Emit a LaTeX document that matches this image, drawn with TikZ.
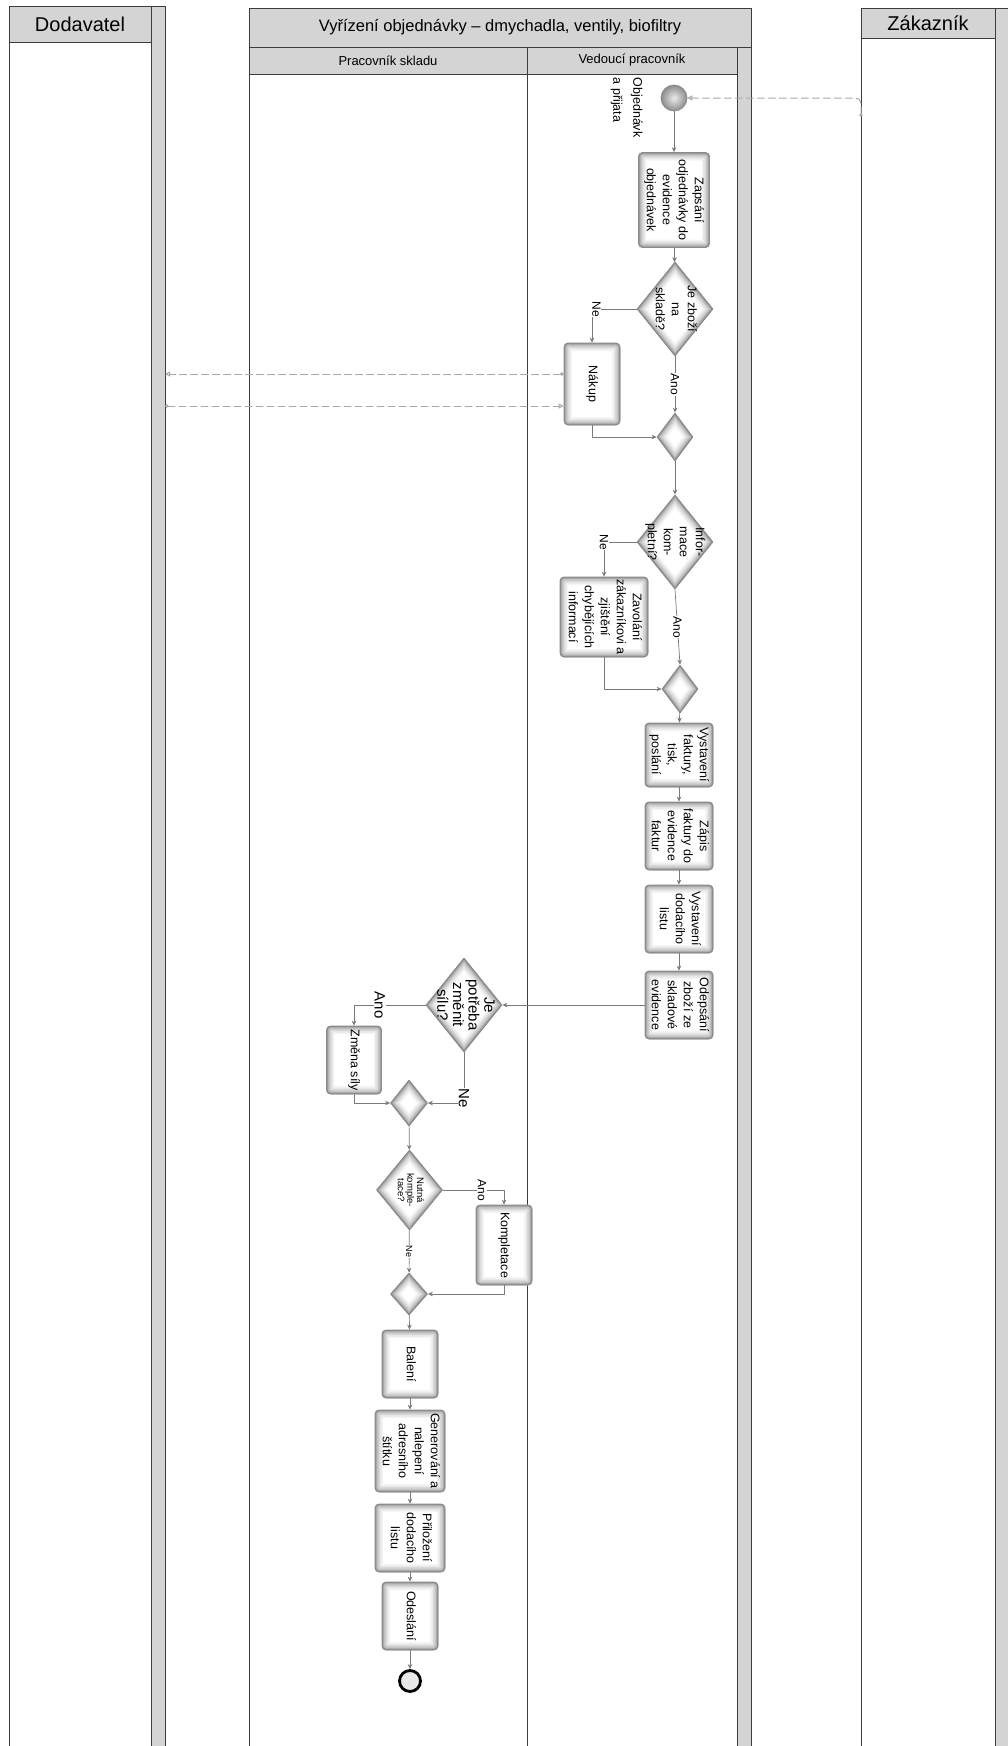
\documentclass[tikz,border=0pt]{standalone}
\usepackage{fontspec}
\setmainfont{Liberation Sans}
\usetikzlibrary{shapes.geometric, arrows.meta}

\definecolor{poolline}{HTML}{3C3C3C}
\definecolor{headfill}{HTML}{D4D4D4}
\definecolor{shapeline}{HTML}{8A8A8A}
\definecolor{flowline}{HTML}{7A7A7A}
\definecolor{msgline}{HTML}{A8A8A8}
\definecolor{endfill}{HTML}{E8E8E8}

\newcommand\vtext[2][c]{\rotatebox{-90}{\begin{tabular}{@{}#1@{}}#2\end{tabular}}}
\newcommand\taskglow{%
  \foreach \bw/\tone in {16pt/black!4,13pt/black!9,10pt/black!15,7pt/black!23,4pt/black!32,2pt/black!43}
    \draw[line width=\bw, \tone, rounded corners=4pt] (path picture bounding box.south west) rectangle (path picture bounding box.north east);}
\newcommand\gateglow{%
  \foreach \bw/\tone in {16pt/black!4,13pt/black!9,10pt/black!15,7pt/black!23,4pt/black!32,2pt/black!43}
    \draw[line width=\bw, \tone, line join=miter] (path picture bounding box.north) -- (path picture bounding box.east)
      -- (path picture bounding box.south) -- (path picture bounding box.west) -- cycle;}

\begin{document}
\begin{tikzpicture}[
  x=1pt, y=-1pt,
  line cap=round, line join=round,
  every node/.style={font=\fontsize{12.5}{16}\selectfont, inner sep=1.5pt},
  pool/.style={draw=poolline, line width=0.9pt},
  head/.style={draw=poolline, fill=headfill, line width=0.9pt},
  task/.style={draw=shapeline, fill=white, line width=0.8pt, rounded corners=4pt, inner sep=1pt, path picture={\taskglow}},
  gate/.style={diamond, draw=shapeline, fill=white, line width=0.8pt, inner sep=0pt, path picture={\gateglow}},
  startev/.style={circle, draw=shapeline, line width=0.8pt, shading=radial, inner color=black!8, outer color=black!45, minimum size=26pt, inner sep=0pt},
  endev/.style={circle, draw=black, line width=2.8pt, fill=endfill, minimum size=21pt, inner sep=0pt},
  flow/.style={draw=flowline, line width=0.7pt, -{Stealth[length=5pt, width=4.5pt]}},
  msg/.style={draw=msgline, line width=1pt, dash pattern=on 7pt off 4pt, {Circle[open, length=3.5pt]}-{Triangle[open, length=5pt, width=5pt]}},
  flowlbl/.style={fill=white, inner sep=0.5pt, font=\fontsize{12}{14}\selectfont},
  biglbl/.style={flowlbl, font=\fontsize{15}{17}\selectfont},
]
\useasboundingbox (0,0) rectangle (1008,1746);
\clip (0,0) rectangle (1008,1746);
\fill[white] (0,0) rectangle (1008,1746);

\draw[pool] (9,6) rectangle (165,1760);
\draw[head] (151,6) rectangle (165,1760);
\node[head, minimum width=142pt, minimum height=36pt, font=\fontsize{20}{24}\selectfont] (dodavatel) at (80,24) {Dodavatel};

\draw[pool] (249,8) rectangle (751,1760);
\node[head, minimum width=502pt, minimum height=39pt, font=\fontsize{16.5}{19}\selectfont] (proces) at (500,27.5) {Vyřízení objednávky – dmychadla, ventily, biofiltry};
\node[head, minimum width=278pt, minimum height=27pt, font=\fontsize{13}{16}\selectfont] (sklad) at (388,60.5) {Pracovník skladu};
\node[head, minimum width=210pt, minimum height=27pt, font=\fontsize{13}{16}\selectfont] (vedouci) at (632,60.5) {Vedoucí pracovník};
\draw[head] (737,47) rectangle (751,1760);
\draw[pool] (527,74) -- (527,1760);

\draw[pool] (861,8) rectangle (1020,1760);
\node[head, minimum width=134pt, minimum height=30pt, font=\fontsize{20}{24}\selectfont] (zakaznik) at (928,23) {Zákazník};
\draw[head] (995,8) rectangle (1020,1760);

\node[startev] (start) at (674,98) {};
\node[anchor=north east, font=\fontsize{12.5}{20}\selectfont] (startlbl) at (649,76) {\vtext[l]{Objednávk\\a přijata}};
\node[task, minimum width=71pt, minimum height=95pt] (zapis) at (674,200) {\vtext{Zapsání\\odjednávky do\\evidence\\objednávek}};
\node[gate, minimum width=76pt, minimum height=94pt, label={center:\vtext{Je zboží\\na\\skladě?}}] (skladem) at (675,309) {};
\node[task, minimum width=56pt, minimum height=82pt] (nakup) at (592,384) {\vtext{Nákup}};
\node[gate, minimum width=36pt, minimum height=48pt] (merge1) at (675,437) {};
\node[gate, minimum width=76pt, minimum height=94pt, label={center:\vtext{Infor-\\mace\\kom-\\pletní?}}] (info) at (675,542) {};
\node[task, minimum width=88pt, minimum height=80pt] (zavolani) at (604,617) {\vtext{Zavolání\\zákazníkovi a\\zjištění\\chybějících\\informací}};
\node[gate, minimum width=36pt, minimum height=48pt] (merge2) at (680,689) {};
\node[task, minimum width=68pt, minimum height=64pt] (faktura) at (679,755) {\vtext{Vystavení\\faktury,\\tisk,\\poslání}};
\node[task, minimum width=68pt, minimum height=68pt] (zapisf) at (679,836) {\vtext{Zápis\\faktury do\\evidence\\faktur}};
\node[task, minimum width=68pt, minimum height=68pt] (dodaci) at (679,919) {\vtext{Vystavení\\dodacího\\listu}};
\node[task, minimum width=68pt, minimum height=68pt] (odepsani) at (679,1005) {\vtext{Odepsání\\zboží ze\\skladové\\evidence}};
\node[gate, minimum width=76pt, minimum height=94pt, label={[font=\fontsize{15}{15.7}\selectfont]center:\vtext{Je\\potřeba\\změnit\\sílu?}}] (potreba) at (464,1005) {};
\node[task, minimum width=55pt, minimum height=68pt] (zmena) at (354,1060) {\vtext{Změna síly}};
\node[gate, minimum width=37pt, minimum height=46pt] (merge3) at (409,1103) {};
\node[gate, minimum width=66pt, minimum height=80pt, label={[font=\fontsize{9.5}{9.5}\selectfont]center:\vtext{Nutná\\komple-\\tace?}}] (nutna) at (409.5,1190) {};
\node[task, minimum width=56pt, minimum height=80pt] (kompletace) at (504,1245) {\vtext{Kompletace}};
\node[gate, minimum width=37pt, minimum height=42pt] (merge4) at (409,1294) {};
\node[task, minimum width=56pt, minimum height=68pt] (baleni) at (410,1364) {\vtext{Balení}};
\node[task, minimum width=70pt, minimum height=82pt] (generovani) at (410,1451) {\vtext{Generování a\\nalepení\\adresního\\štítku}};
\node[task, minimum width=70pt, minimum height=68pt] (prilozeni) at (410,1538) {\vtext{Přiložení\\dodacího\\listu}};
\node[task, minimum width=56pt, minimum height=68pt] (odeslani) at (410,1616) {\vtext{Odeslání}};
\node[endev] (konec) at (410,1681) {};

\draw[flow] (start) -- (zapis);
\draw[flow] (zapis) -- (skladem);
\draw[flow] (skladem.west) -| node[flowlbl, pos=.45] {\rotatebox{-90}{Ne}} (nakup.north);
\draw[flow] (skladem) -- node[flowlbl] {\rotatebox{-90}{Ano}} (merge1);
\draw[flow] (nakup.south) |- (merge1.west);
\draw[flow] (merge1) -- (info);
\draw[flow] (info.west) -| node[flowlbl, pos=.5] {\rotatebox{-90}{Ne}} (zavolani.north);
\draw[flow] (info.south) -- node[flowlbl] {\rotatebox{-90}{Ano}} (merge2.north);
\draw[flow] (zavolani.south) |- (merge2.west);
\draw[flow] (merge2) -- (faktura);
\draw[flow] (faktura) -- (zapisf);
\draw[flow] (zapisf) -- (dodaci);
\draw[flow] (dodaci) -- (odepsani);
\draw[flow] (odepsani) -- (potreba);
\draw[flow] (potreba.west) -| node[biglbl, pos=.32] {\rotatebox{-90}{Ano}} (zmena.north);
\draw[flow] (potreba.south) |- node[biglbl, pos=.45] {\rotatebox{-90}{Ne}} (merge3.east);
\draw[flow] (zmena.south) |- (merge3.west);
\draw[flow] (merge3) -- (nutna);
\draw[flow] (nutna.east) -| node[flowlbl, pos=.32] {\rotatebox{-90}{Ano}} (kompletace.north);
\draw[flow] (nutna) -- node[flowlbl, font=\fontsize{9}{10}\selectfont] {\rotatebox{-90}{Ne}} (merge4);
\draw[flow] (kompletace.south) |- (merge4.east);
\draw[flow] (merge4) -- (baleni);
\draw[flow] (baleni) -- (generovani);
\draw[flow] (generovani) -- (prilozeni);
\draw[flow] (prilozeni) -- (odeslani);
\draw[flow] (odeslani) -- (konec);

\coordinate (zakin) at (861,117);
\coordinate (dodout) at (165,374);
\coordinate (dodin) at (165,406);
\draw[msg, rounded corners=6pt] (zakin) |- (start);
\draw[msg] (nakup.west |- dodout) -- (dodout);
\draw[msg] (dodin) -- (nakup.west |- dodin);
\end{tikzpicture}
\end{document}
